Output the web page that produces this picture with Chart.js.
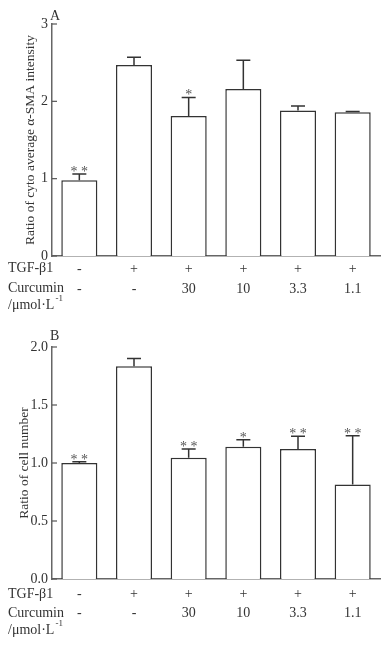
<!DOCTYPE html>
<html>
<head>
<meta charset="utf-8">
<script src="https://cdn.jsdelivr.net/npm/chart.js@4.4.1/dist/chart.umd.min.js"></script>
<style>
  body { margin: 0; background: #fff; width: 388px; height: 652px; overflow: hidden; }
  .box { position: absolute; left: 0; width: 388px; height: 326px; }
</style>
</head>
<body>
<div class="box" style="top:0"><canvas id="chartA" width="388" height="326"></canvas></div>
<div class="box" style="top:323px"><canvas id="chartB" width="388" height="326"></canvas></div>
<script>
const tgfRow = ["-", "+", "+", "+", "+", "+"];
const curcuminRow = ["-", "-", "30", "10", "3.3", "1.1"];

// panel A: alpha-SMA intensity
const smaValues = [0.98, 2.47, 1.81, 2.16, 1.88, 1.86];
const smaErrors = [0.08, 0.10, 0.24, 0.37, 0.06, 0.01];
const smaStars = ["**", "", "*", "", "", ""];
const smaTicks = [0, 1, 2, 3];

// panel B: cell number
const cellValues = [1.00, 1.835, 1.045, 1.14, 1.12, 0.815];
const cellErrors = [0.01, 0.065, 0.075, 0.06, 0.11, 0.42];
const cellStars = ["**", "", "**", "*", "**", "**"];
const cellTicks = [0, 0.5, 1.0, 1.5, 2.0];

const FONT = "'Liberation Serif', 'Times New Roman', serif";
const TEXT = "#333";

const extras = {
  id: "extras",
  afterDatasetsDraw(chart, args, opts) {
    const { ctx, chartArea } = chart;
    const y = chart.scales.y;
    const meta = chart.getDatasetMeta(0);
    ctx.save();
    // inward tick marks on the y axis
    ctx.strokeStyle = "#555";
    ctx.lineWidth = 1.2;
    opts.ticks.forEach((v) => {
      const py = y.getPixelForValue(v);
      ctx.beginPath();
      ctx.moveTo(chartArea.left, py);
      ctx.lineTo(chartArea.left + 5, py);
      ctx.stroke();
    });
    // error bars and significance marks
    ctx.strokeStyle = "#333";
    ctx.lineWidth = 1.5;
    ctx.fillStyle = "#555";
    ctx.font = "14px " + FONT;
    ctx.textAlign = "center";
    ctx.textBaseline = "alphabetic";
    meta.data.forEach((bar, i) => {
      const top = y.getPixelForValue(opts.values[i] + opts.errors[i]);
      ctx.beginPath();
      ctx.moveTo(bar.x, bar.y);
      ctx.lineTo(bar.x, top);
      ctx.moveTo(bar.x - 7, top);
      ctx.lineTo(bar.x + 7, top);
      ctx.stroke();
      if (opts.stars[i]) ctx.fillText(opts.stars[i].split("").join(" "), bar.x, top + 2);
    });
    // panel letter
    ctx.fillStyle = TEXT;
    ctx.font = "14px " + FONT;
    ctx.textAlign = "left";
    ctx.textBaseline = "middle";
    ctx.fillText(opts.letter, chartArea.left - 2, chartArea.top - opts.letterGap);
    // row headers under the axis
    const b = chartArea.bottom;
    ctx.fillText("TGF-\u03b21", 8, b + opts.rows[0]);
    ctx.fillText("Curcumin", 8, b + opts.rows[1]);
    const unit = "/\u03bcmol\u00b7L";
    ctx.fillText(unit, 8, b + opts.rows[2]);
    const w = ctx.measureText(unit).width;
    ctx.font = "9px " + FONT;
    ctx.fillText("-1", 8 + w + 1, b + opts.rows[2] - 6);
    ctx.restore();
  },
};

function makeChart(id, cfg) {
  const labels = tgfRow.map((t, i) => [t, curcuminRow[i]]);
  return new Chart(document.getElementById(id), {
    type: "bar",
    data: {
      labels: labels,
      datasets: [
        {
          data: cfg.values,
          backgroundColor: "#fff",
          borderColor: "#333",
          borderWidth: 1.5,
          borderSkipped: "bottom",
          barPercentage: 0.66,
          categoryPercentage: 1,
        },
      ],
    },
    options: {
      responsive: false,
      animation: false,
      layout: { padding: { top: 24, right: 8, left: 0, bottom: 0 } },
      plugins: {
        legend: { display: false },
        tooltip: { enabled: false },
        extras: {
          values: cfg.values,
          errors: cfg.errors,
          stars: cfg.stars,
          ticks: cfg.ticks,
          letter: cfg.letter,
          letterGap: cfg.letterGap,
          rows: cfg.rows,
        },
      },
      scales: {
        x: {
          grid: { display: false, drawTicks: false },
          border: { display: true, color: "#666", width: 1.5 },
          ticks: {
            color: TEXT,
            font: { family: FONT, size: 14, lineHeight: cfg.lineHeight },
            padding: cfg.tickPad,
            maxRotation: 0,
          },
          afterFit: (s) => { s.height = 70; },
        },
        y: {
          min: 0,
          max: cfg.max,
          grid: { display: false, drawTicks: false },
          border: { display: true, color: "#666", width: 1.5 },
          afterBuildTicks: (s) => { s.ticks = cfg.ticks.map((v) => ({ value: v })); },
          ticks: {
            color: TEXT,
            font: { family: FONT, size: 14 },
            padding: 4,
            callback: cfg.fmt,
          },
          title: {
            display: true,
            text: cfg.title,
            color: TEXT,
            font: { family: FONT, size: 13.5 },
            padding: { top: cfg.titlePad, bottom: 0 },
          },
          afterFit: (s) => { s.width = 52; },
        },
      },
    },
    plugins: [extras],
  });
}

makeChart("chartA", {
  values: smaValues, errors: smaErrors, stars: smaStars, ticks: smaTicks,
  max: 3, fmt: (v) => String(v), title: "Ratio of cyto average \u03b1-SMA intensity",
  titlePad: 22, letter: "A", letterGap: 8, rows: [12, 32, 49], lineHeight: 1.43, tickPad: 3,
});

makeChart("chartB", {
  values: cellValues, errors: cellErrors, stars: cellStars, ticks: cellTicks,
  max: 2, fmt: (v) => Number(v).toFixed(1), title: "Ratio of cell number",
  titlePad: 16, letter: "B", letterGap: 11, rows: [15, 34, 51], lineHeight: 1.33, tickPad: 6,
});
</script>
</body>
</html>
